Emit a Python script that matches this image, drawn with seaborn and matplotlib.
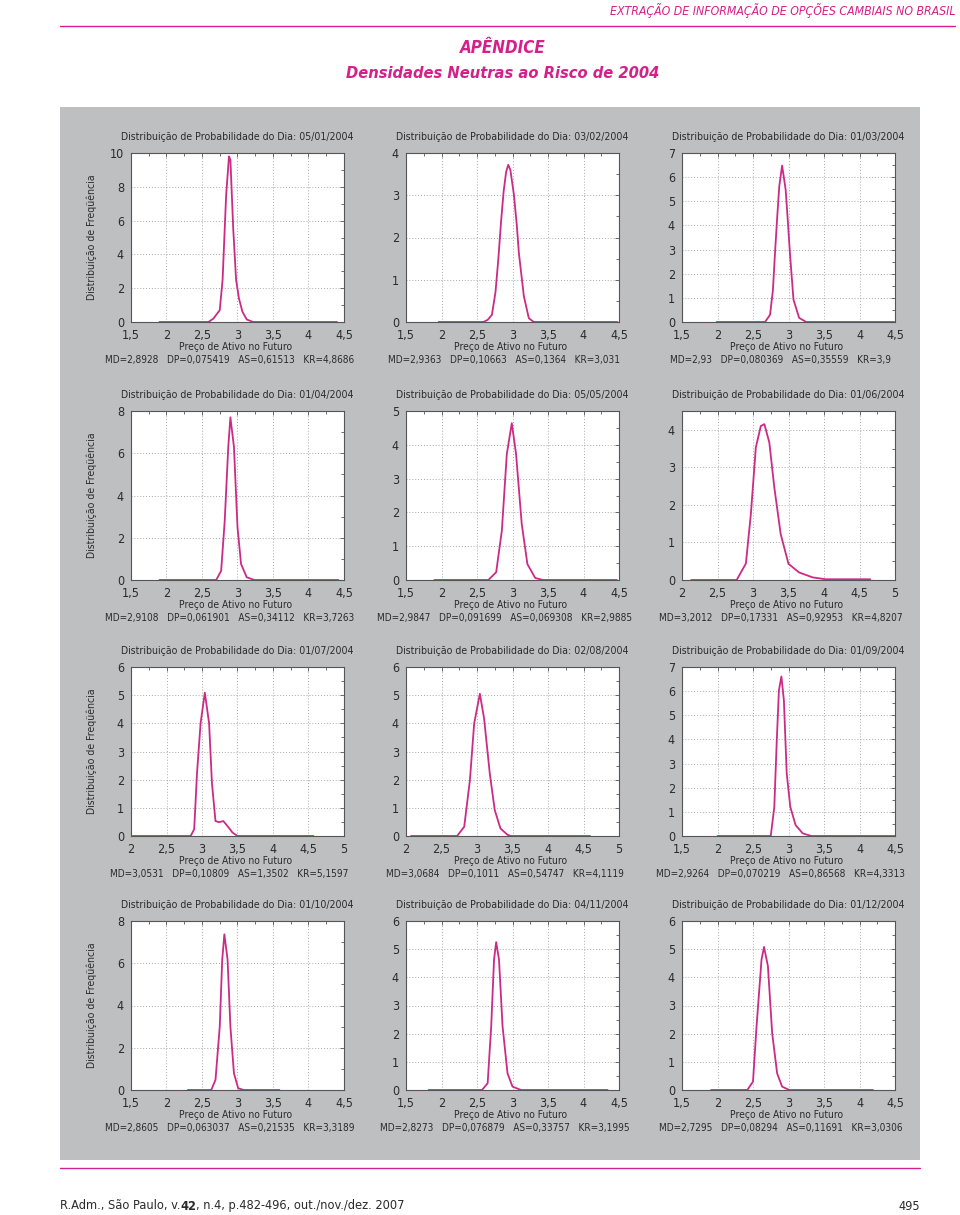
import matplotlib
matplotlib.use("Agg")
import numpy as np
import pandas as pd
import seaborn as sns
import matplotlib.pyplot as plt
from matplotlib.ticker import MultipleLocator, FuncFormatter
from matplotlib import font_manager as fm
from matplotlib.patches import Rectangle
from matplotlib.lines import Line2D

sns.set_style("white")
names = {f.name for f in fm.fontManager.ttflist}
if 'Arial Narrow' in names:
    base, stretch = 'Arial Narrow', 'normal'
else:
    base, stretch = 'DejaVu Sans', 'condensed'
plt.rcParams['font.family'] = [base, 'DejaVu Sans']
plt.rcParams['font.stretch'] = stretch

# ---------------- data ----------------
dates = ["05/01/2004", "03/02/2004", "01/03/2004", "01/04/2004", "05/05/2004", "01/06/2004",
         "01/07/2004", "02/08/2004", "01/09/2004", "01/10/2004", "04/11/2004", "01/12/2004"]
md = ["2,8928", "2,9363", "2,93", "2,9108", "2,9847", "3,2012",
      "3,0531", "3,0684", "2,9264", "2,8605", "2,8273", "2,7295"]
dp = ["0,075419", "0,10663", "0,080369", "0,061901", "0,091699", "0,17331",
      "0,10809", "0,1011", "0,070219", "0,063037", "0,076879", "0,08294"]
as_ = ["0,61513", "0,1364", "0,35559", "0,34112", "0,069308", "0,92953",
       "1,3502", "0,54747", "0,86568", "0,21535", "0,33757", "0,11691"]
kr = ["4,8686", "3,031", "3,9", "3,7263", "2,9885", "4,8207",
      "5,1597", "4,1119", "4,3313", "3,3189", "3,1995", "3,0306"]

x_min = [1.5, 1.5, 1.5, 1.5, 1.5, 2.0, 2.0, 2.0, 1.5, 1.5, 1.5, 1.5]
y_max = [10, 4, 7, 8, 5, 4.5, 6, 6, 7, 8, 6, 6]
y_step = [2, 1, 1, 2, 1, 1, 1, 1, 1, 2, 1, 1]

c1_x = [1.90, 2.59, 2.66, 2.75, 2.79, 2.84, 2.88, 2.90, 2.94, 2.98, 3.02, 3.07, 3.13, 3.22, 4.40]
c1_y = [0, 0, 0.2, 0.7, 2.5, 7.5, 9.8, 9.6, 5.5, 2.5, 1.4, 0.6, 0.15, 0, 0]
c2_x = [1.96, 2.59, 2.65, 2.71, 2.76, 2.80, 2.84, 2.875, 2.91, 2.94, 2.97, 3.02, 3.06, 3.09, 3.16, 3.23, 3.30, 4.48]
c2_y = [0, 0, 0.05, 0.17, 0.7, 1.48, 2.4, 3.09, 3.55, 3.72, 3.6, 3.01, 2.3, 1.63, 0.61, 0.09, 0, 0]
c3_x = [1.99, 2.67, 2.74, 2.78, 2.81, 2.84, 2.87, 2.91, 2.96, 2.99, 3.02, 3.07, 3.15, 3.25, 4.49]
c3_y = [0, 0, 0.3, 1.3, 2.86, 4.3, 5.62, 6.48, 5.48, 4.2, 2.86, 0.93, 0.17, 0, 0]
c4_x = [1.90, 2.70, 2.77, 2.82, 2.87, 2.90, 2.95, 3.00, 3.05, 3.13, 3.24, 4.42]
c4_y = [0, 0, 0.44, 2.8, 6.3, 7.7, 6.3, 2.5, 0.76, 0.13, 0, 0]
c5_x = [1.90, 2.66, 2.77, 2.85, 2.92, 2.99, 3.05, 3.13, 3.21, 3.32, 3.43, 4.47]
c5_y = [0, 0, 0.23, 1.46, 3.73, 4.64, 3.73, 1.66, 0.47, 0.06, 0, 0]
c6_x = [2.13, 2.77, 2.90, 2.97, 3.04, 3.11, 3.16, 3.23, 3.30, 3.39, 3.50, 3.65, 3.84, 4.02, 4.65]
c6_y = [0, 0, 0.44, 1.76, 3.53, 4.1, 4.15, 3.66, 2.47, 1.22, 0.43, 0.2, 0.07, 0.02, 0.02]
c7_x = [2.02, 2.84, 2.89, 2.93, 2.98, 3.04, 3.10, 3.14, 3.19, 3.24, 3.30, 3.36, 3.43, 3.50, 4.57]
c7_y = [0, 0, 0.24, 2.24, 4.0, 5.09, 4.0, 1.88, 0.53, 0.49, 0.53, 0.35, 0.12, 0, 0]
c8_x = [2.07, 2.72, 2.82, 2.90, 2.96, 3.04, 3.10, 3.18, 3.25, 3.33, 3.43, 3.48, 4.59]
c8_y = [0, 0, 0.33, 1.98, 3.99, 5.05, 4.17, 2.22, 0.92, 0.27, 0.04, 0, 0]
c9_x = [2.0, 2.75, 2.80, 2.835, 2.865, 2.90, 2.935, 2.975, 3.025, 3.10, 3.20, 3.32, 4.5]
c9_y = [0, 0, 1.2, 3.97, 6.03, 6.61, 5.62, 2.59, 1.21, 0.45, 0.11, 0, 0]
c10_x = [2.30, 2.63, 2.69, 2.75, 2.785, 2.815, 2.86, 2.90, 2.95, 3.01, 3.09, 3.59]
c10_y = [0, 0, 0.48, 3.0, 6.18, 7.37, 6.18, 3.0, 0.79, 0.08, 0, 0]
c11_x = [1.82, 2.57, 2.65, 2.70, 2.74, 2.77, 2.81, 2.86, 2.93, 3.0, 3.12, 4.34]
c11_y = [0, 0, 0.24, 2.26, 4.63, 5.25, 4.63, 2.26, 0.59, 0.12, 0, 0]
c12_x = [1.91, 2.42, 2.50, 2.55, 2.62, 2.655, 2.71, 2.77, 2.84, 2.91, 3.01, 4.19]
c12_y = [0, 0, 0.3, 2.26, 4.63, 5.08, 4.4, 2.02, 0.59, 0.12, 0, 0]

curves_x = [c1_x, c2_x, c3_x, c4_x, c5_x, c6_x, c7_x, c8_x, c9_x, c10_x, c11_x, c12_x]
curves_y = [c1_y, c2_y, c3_y, c4_y, c5_y, c6_y, c7_y, c8_y, c9_y, c10_y, c11_y, c12_y]

# ---------------- layout ----------------
W, H = 960, 1215
fig = plt.figure(figsize=(W / 100, H / 100), dpi=100)
fig.patch.set_facecolor("white")

def fx(px):
    return px / W

def fy(py):
    return 1 - py / H

MAG = "#D4208A"
LINE = "#CC2A85"
TXT = "#2b2b2b"

fig.patches.append(Rectangle((fx(60), fy(1160)), fx(860), (1160 - 107) / H,
                             transform=fig.transFigure, facecolor="#BEBFC1",
                             edgecolor="none", zorder=-5))
fig.lines.append(Line2D([fx(60), fx(955)], [fy(26), fy(26)], transform=fig.transFigure,
                        color=MAG, lw=1.0))
fig.lines.append(Line2D([fx(60), fx(920)], [fy(1168), fy(1168)], transform=fig.transFigure,
                        color=MAG, lw=1.0))

fig.text(fx(955), fy(11), "EXTRAÇÃO DE INFORMAÇÃO DE OPÇÕES CAMBIAIS NO BRASIL",
         ha="right", va="center", color=MAG, fontsize=8.8, style="italic")
fig.text(fx(503), fy(48), "APÊNDICE", ha="center", va="center", color=MAG,
         fontsize=12.2, style="italic", weight="bold")
fig.text(fx(503), fy(73), "Densidades Neutras ao Risco de 2004", ha="center", va="center",
         color=MAG, fontsize=11.8, style="italic", weight="bold")

col_left = [131, 406, 682]
row_top = [153, 411, 667, 921]
AW, AH = 213, 169

fmt = FuncFormatter(lambda v, p: ("%g" % v).replace(".", ","))

for i in range(12):
    r, c = divmod(i, 3)
    L, T = col_left[c], row_top[r]
    ax = fig.add_axes([fx(L), fy(T + AH), AW / W, AH / H])
    ax.set_facecolor("white")
    df = pd.DataFrame({"x": curves_x[i], "y": curves_y[i]})
    sns.lineplot(data=df, x="x", y="y", ax=ax, color=LINE, lw=1.3, sort=False,
                 estimator=None, zorder=3)
    ax.set_xlim(x_min[i], x_min[i] + 3)
    ax.set_ylim(0, y_max[i])
    ax.xaxis.set_major_locator(MultipleLocator(0.5))
    ax.xaxis.set_minor_locator(MultipleLocator(0.25))
    ax.yaxis.set_major_locator(MultipleLocator(y_step[i]))
    ax.yaxis.set_minor_locator(MultipleLocator(y_step[i] / 2))
    ax.xaxis.set_major_formatter(fmt)
    ax.yaxis.set_major_formatter(fmt)
    ax.tick_params(which="both", direction="in", top=True, right=True,
                   color="#555555", labelsize=9, labelcolor=TXT)
    ax.tick_params(which="major", length=3, width=0.6)
    ax.tick_params(which="minor", length=2, width=0.6)
    ax.tick_params(axis="x", pad=5)
    ax.tick_params(axis="y", pad=5)
    ax.grid(True, which="major", ls=(0, (1, 2)), color="#a8a8a8", lw=0.7)
    for s in ax.spines.values():
        s.set_color("#555555")
        s.set_linewidth(0.8)
    ax.set_xlabel("")
    ax.set_ylabel("")

    cx = L + AW / 2
    fig.text(fx(cx), fy(T - 16), "Distribuição de Probabilidade do Dia: " + dates[i],
             ha="center", va="center", fontsize=7.6, color=TXT)
    fig.text(fx(cx - 2), fy(T + AH + 25), "Preço de Ativo no Futuro",
             ha="center", va="center", fontsize=7.4, color=TXT)
    fig.text(fx(cx - 8), fy(T + AH + 38),
             "MD=%s   DP=%s   AS=%s   KR=%s" % (md[i], dp[i], as_[i], kr[i]),
             ha="center", va="center", fontsize=7.2, color=TXT)
    if c == 0:
        fig.text(fx(92), fy(T + AH / 2), "Distribuição de Freqüência", rotation=90,
                 ha="center", va="center", fontsize=7.6, color=TXT)

renderer = fig.canvas.get_renderer()
parts = [("R.Adm., São Paulo, v.", "normal"), ("42", "bold"),
         (", n.4, p.482-496, out./nov./dez. 2007", "normal")]
xpos = 60
for txt, wgt in parts:
    t = fig.text(fx(xpos), fy(1206), txt, ha="left", va="center", fontsize=9.2,
                 weight=wgt, color=TXT)
    bb = t.get_window_extent(renderer=renderer)
    xpos += bb.width
fig.text(fx(920), fy(1206), "495", ha="right", va="center", fontsize=9.2, color=TXT)

fig.savefig("out.png", dpi=100, facecolor="white")
